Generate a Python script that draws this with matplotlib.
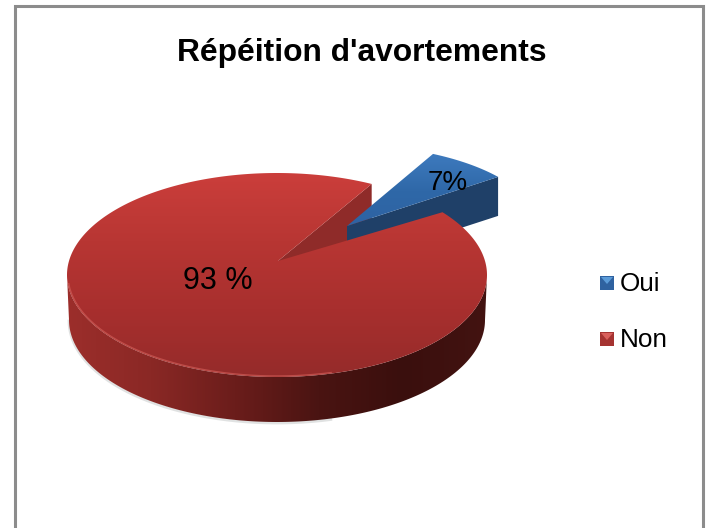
import numpy as np
import matplotlib
matplotlib.use('Agg')
import matplotlib.pyplot as plt
from matplotlib.colors import LinearSegmentedColormap
from matplotlib.patches import Polygon, Rectangle

plt.rcParams['font.family'] = ['Liberation Sans', 'DejaVu Sans']

# Data
title = "Répéition d'avortements"
categories = ['Oui', 'Non']
shares = [7, 93]
value_labels = ['7%', '93 %']

# Pie geometry, in pixels
cx, cy, rx, ry = 277, 275, 210, 102
depth = 45
oui_cx, oui_cy, oui_rx, oui_ry = 346, 228, 193, 83
oui_depth = 39
last_angle = 38


def rim(x0, y0, a, b, t1, t2, n=200):
    t = np.radians(np.linspace(t1, t2, n))
    return np.column_stack([x0 + a * np.cos(t), y0 - b * np.sin(t)])


def gradient(ax, shape, colors, extent, horizontal=False, zorder=1):
    cmap = LinearSegmentedColormap.from_list('g', colors)
    grad = np.linspace(0, 1, 256)
    grad = grad.reshape(1, -1) if horizontal else grad.reshape(-1, 1)
    im = ax.imshow(grad, cmap=cmap, extent=extent, aspect='auto', zorder=zorder,
                   origin='upper', interpolation='bilinear')
    patch = Polygon(shape, closed=True, transform=ax.transData, fc='none', ec='none')
    ax.add_patch(patch)
    im.set_clip_path(patch)


fig = plt.figure(figsize=(7.07, 5.28), dpi=100)
ax = fig.add_axes([0, 0, 1, 1])

# Chart frame, open at the bottom of the picture
ax.plot([14.5, 14.5, 702.5, 702.5], [530, 6, 6, 530], color='#8c8c8c', lw=2.2, zorder=1,
        solid_joinstyle='miter')

# Slice angles come from the shares
oui_span = 360 * shares[0] / sum(shares)
t_oui_start = last_angle
t_oui_end = last_angle + oui_span
t_non_end = last_angle + 360

# Soft shadow below the body
low = rim(cx, cy + depth + 1, rx - 2, ry, 180, 285)
ax.plot(low[:, 0], low[:, 1], color='#9aa0a0', lw=2, alpha=0.3, zorder=1)

# Red side wall
arc_top = rim(cx, cy, rx, ry, 180, 360)
arc_low = rim(cx, cy + depth, rx - 2, ry, 360, 180)
gradient(ax, np.vstack([arc_top, arc_low]),
         ['#9c2e2b', '#8a2825', '#6b1d1b', '#4a1412', '#3a0f0d', '#431311'],
         (cx - rx, cx + rx, cy + depth + ry + 2, cy - 5), horizontal=True, zorder=2)

# Red wall of the notch
apex = np.array([278, 261])
notch_rim = rim(cx, cy, rx, ry, t_oui_end, t_oui_end, 1)[0]
ax.add_patch(Polygon([apex, notch_rim, notch_rim + [0, depth], apex + [0, depth]],
                     closed=True, fc='#8f2b29', ec='none', zorder=3))

# Blue slice, pulled out of the pie
oui_arc = rim(oui_cx, oui_cy, oui_rx, oui_ry, t_oui_end, t_oui_start, 40)
oui_apex = np.array([347, 226])
ax.add_patch(Polygon([oui_apex, oui_arc[-1], oui_arc[-1] + [0, oui_depth], oui_apex + [0, oui_depth]],
                     closed=True, fc='#1f4068', ec='none', zorder=4))
gradient(ax, np.vstack([oui_apex, oui_arc]), ['#3f7cc0', '#2f68a8', '#2e62a2'],
         (340, 505, 232, 150), zorder=5)

# Red top face
non_arc = rim(cx, cy, rx, ry, t_oui_end, t_non_end, 400)
gradient(ax, np.vstack([apex, non_arc]), ['#cb3e3b', '#b83633', '#a82f2e', '#952b2a'],
         (cx - rx, cx + rx, cy + ry, cy - ry), zorder=6)

# Highlight along the front edge
front = rim(cx, cy, rx - 1, ry - 1, 185, 285)
ax.plot(front[:, 0], front[:, 1], color='#cf5a55', lw=1.0, alpha=0.7, zorder=7)

# Value labels
ax.text(448, 183, value_labels[0], fontsize=20, ha='center', va='center', color='black', zorder=8)
ax.text(218, 281, value_labels[1], fontsize=22, ha='center', va='center', color='black', zorder=8)

# Title
ax.text(362, 53, title, fontsize=22.9, fontweight='bold', ha='center', va='center', color='black')

# Legend
legend_y = [284, 340]
legend_dark = ['#2f62a0', '#a53331']
legend_light = ['#5b9bd8', '#d9605c']
for name, y, dark, light in zip(categories, legend_y, legend_dark, legend_light):
    ax.add_patch(Rectangle((600, y - 8), 14, 14, fc=dark, ec='none'))
    ax.add_patch(Polygon([[601, y - 7], [613, y - 7], [607, y], ], closed=True, fc=light, ec='none'))
    ax.text(620, y, name, fontsize=18.8, ha='left', va='center', color='black')

ax.set_xlim(0, 707)
ax.set_ylim(528, 0)
ax.axis('off')
fig.savefig('out.png', dpi=100, facecolor='white')
